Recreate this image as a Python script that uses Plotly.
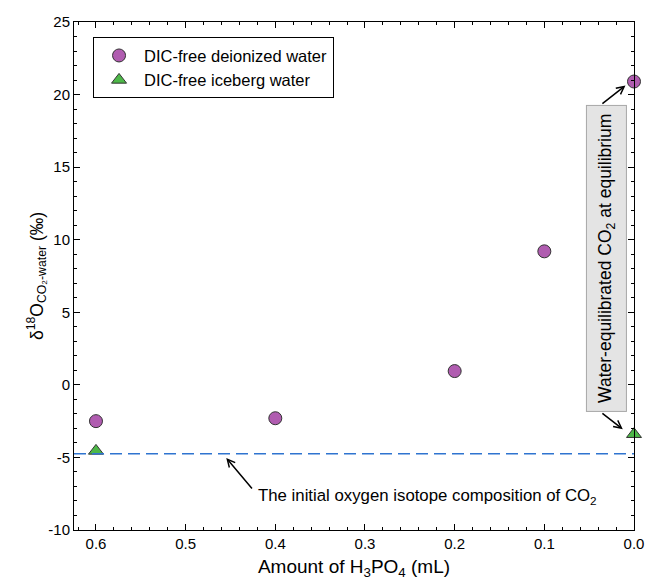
import plotly.graph_objects as go

# Data
deion_x = [0.6, 0.4, 0.2, 0.1, 0.0]
deion_y = [-2.5, -2.3, 0.95, 9.2, 20.9]
ice_x = [0.6, 0.0]
ice_y = [-4.55, -3.4]
initial_co2 = -4.75

xticks = [0.6, 0.5, 0.4, 0.3, 0.2, 0.1, 0.0]
yticks = [-10, -5, 0, 5, 10, 15, 20, 25]

FONT = "Liberation Sans, Arial, sans-serif"

fig = go.Figure()
fig.add_trace(go.Scatter(
    x=deion_x, y=deion_y, mode="markers", name="DIC-free deionized water",
    marker=dict(symbol="circle", size=13, color="#B05CB0", line=dict(color="#333333", width=1)),
    cliponaxis=False))
fig.add_trace(go.Scatter(
    x=ice_x, y=ice_y, mode="markers", name="DIC-free iceberg water",
    marker=dict(symbol="triangle-up", size=13, color="#4DB848", line=dict(color="#333333", width=1)),
    cliponaxis=False))

fig.add_shape(type="line", xref="paper", yref="y", x0=0, x1=1, y0=initial_co2, y1=initial_co2,
              line=dict(color="#2F74D0", width=1.5, dash="12px,6px"))

# Vertical boxed label
fig.add_annotation(x=0.0313, y=8.74, xref="x", yref="y",
                   text="Water-equilibrated CO<sub>2</sub> at equilibrium",
                   textangle=-90, showarrow=False, font=dict(family=FONT, size=17.5, color="black"),
                   bgcolor="#E4E4E4", bordercolor="#A8A8A8", borderwidth=1, borderpad=8)
# arrows from box
fig.add_annotation(x=0.0095, y=20.62, ax=0.0369, ay=19.3, xref="x", yref="y", axref="x", ayref="y",
                   text="", showarrow=True, arrowhead=5, arrowsize=1, arrowwidth=1.5, arrowcolor="black")
fig.add_annotation(x=0.0125, y=-3.05, ax=0.0369, ay=-1.89, xref="x", yref="y", axref="x", ayref="y",
                   text="", showarrow=True, arrowhead=5, arrowsize=1, arrowwidth=1.5, arrowcolor="black")

# bottom label
fig.add_annotation(x=0.230, y=-7.72, xref="x", yref="y",
                   text="The initial oxygen isotope composition of CO<sub>2</sub>",
                   showarrow=False, font=dict(family=FONT, size=16.8, color="black"))
fig.add_annotation(x=0.4547, y=-5.04, ax=0.4246, ay=-7.24, xref="x", yref="y", axref="x", ayref="y",
                   text="", showarrow=True, arrowhead=5, arrowsize=1, arrowwidth=1.5, arrowcolor="black")

axis_common = dict(showline=True, linecolor="black", linewidth=1, mirror="allticks",
                   ticks="inside", ticklen=6, tickcolor="black", showgrid=False, zeroline=False,
                   automargin=False,
                   tickfont=dict(family=FONT, size=15, color="black"))

fig.update_xaxes(range=[0.6245, 0.0], tickvals=xticks, ticktext=[f"{v:.1f}" for v in xticks],
                 minor=dict(dtick=0.02, ticks="inside", ticklen=3, tickcolor="black"),
                 title=dict(text="Amount of H<sub>3</sub>PO<sub>4</sub> (mL)",
                            font=dict(family=FONT, size=19, color="black"), standoff=8),
                 **axis_common)
fig.update_yaxes(range=[-10, 25], tickvals=yticks, ticktext=[str(v) for v in yticks],
                 minor=dict(dtick=1, ticks="inside", ticklen=3, tickcolor="black"),
                 title=dict(text="δ<sup>18</sup>O<sub>CO₂-water</sub> (‰)",
                            font=dict(family=FONT, size=17.5, color="black"), standoff=0),
                 **axis_common)

fig.update_layout(
    width=646, height=582,
    margin=dict(l=74, r=12, t=22, b=52),
    paper_bgcolor="white", plot_bgcolor="white",
    font=dict(family=FONT, size=15, color="black"),
    showlegend=True,
    legend=dict(x=0.034, y=0.970, xanchor="left", yanchor="top",
                bordercolor="black", borderwidth=1, bgcolor="white",
                font=dict(family=FONT, size=16.5, color="black"),
                itemwidth=40, tracegroupgap=2),
)

# remove the default 8px body margin so the figure fills the window exactly
fig.write_html("out.html", config={"displayModeBar": False},
               post_script="document.body.style.margin='0';document.body.style.overflow='hidden';")
